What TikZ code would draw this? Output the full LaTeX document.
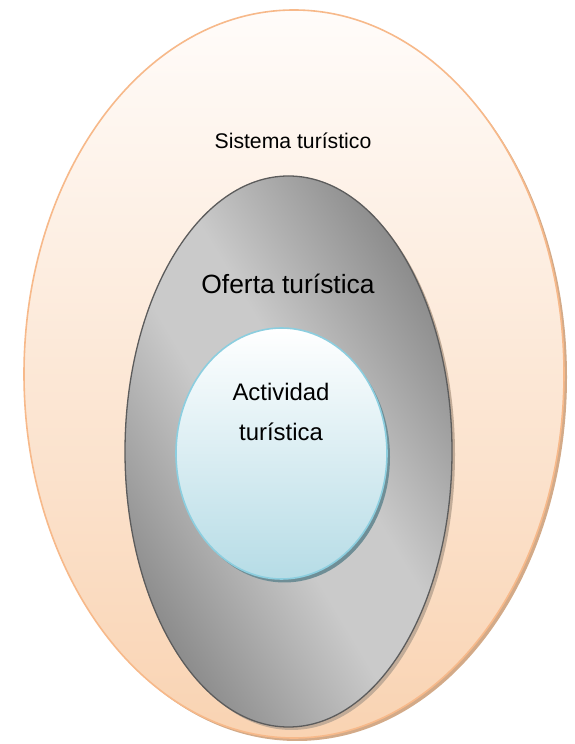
\documentclass[tikz,border=0pt]{standalone}
\usepackage{fontspec}
\setmainfont{Liberation Sans}
\definecolor{peachtop}{HTML}{FFFCFA}
\definecolor{peachbot}{HTML}{F9D3B2}
\definecolor{peachline}{HTML}{F7B98A}
\definecolor{peachshadow}{HTML}{D3AA88}
\definecolor{graydark}{HTML}{7A7A7A}
\definecolor{graylight}{HTML}{CACACA}
\definecolor{grayline}{HTML}{5C5C5C}
\definecolor{grayshadow}{HTML}{C2AC98}
\definecolor{bluetop}{HTML}{FFFFFF}
\definecolor{bluebot}{HTML}{B6DCE6}
\definecolor{blueline}{HTML}{8CCEDF}
\definecolor{blueshadow}{HTML}{6F8E96}
\pgfdeclarehorizontalshading{ofertashade}{100bp}{color(0bp)=(graydark); color(20bp)=(graydark); color(45bp)=(graylight); color(55bp)=(graylight); color(80bp)=(graydark); color(100bp)=(graydark)}
\tikzset{
	txt/.style={text=black, inner sep=0pt},
}
\begin{document}
\begin{tikzpicture}[x=1pt, y=1pt]
	\useasboundingbox[fill=white] (0, 0) rectangle (575, 744);
	\fill[peachshadow] (297, 367) ellipse [x radius=270pt, y radius=364pt];
	\shade[top color=peachtop, bottom color=peachbot, draw=peachline, line width=1.6pt] (294, 370) ellipse [x radius=270pt, y radius=364pt];
	\fill[grayshadow] (291.5, 289.5) ellipse [x radius=163.5pt, y radius=275.5pt];
	\shade[shading=ofertashade, shading angle=31, draw=grayline, line width=1.3pt] (288.5, 292.5) ellipse [x radius=163.5pt, y radius=275.5pt];
	\fill[blueshadow] (284.5, 287) ellipse [x radius=105.5pt, y radius=125.5pt];
	\shade[top color=bluetop, bottom color=bluebot, draw=blueline, line width=1.6pt] (281.5, 290.5) ellipse [x radius=105.5pt, y radius=125.5pt];
	\node[txt, font=\fontsize{21.2}{25}\selectfont] (sistema) at (293, 603) {Sistema turístico};
	\node[txt, font=\fontsize{26.4}{30}\selectfont] (oferta) at (288, 460) {Oferta turística};
	\node[txt, font=\fontsize{23.9}{40}\selectfont, align=center] (actividad) at (281, 332) {Actividad\\turística};
\end{tikzpicture}
\end{document}
